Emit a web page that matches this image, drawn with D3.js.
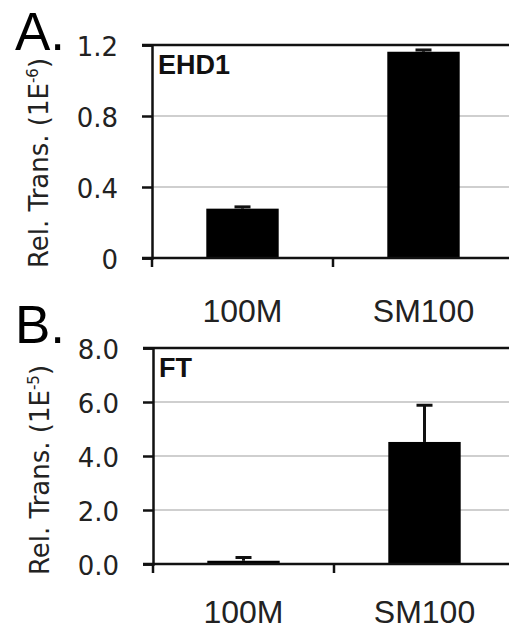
<!DOCTYPE html>
<html><head><meta charset="utf-8">
<script src="https://cdn.jsdelivr.net/npm/d3@7"></script>
<style>body{margin:0;background:#fff}svg{display:block}</style>
</head><body>
<script>
const categories = ["100M", "SM100"];
const ehd1Values = [0.278, 1.162];
const ehd1Errors = [0.01, 0.01];
const ehd1Ticks = [0, 0.4, 0.8, 1.2];
const ehd1TickLabels = ["0", "0.4", "0.8", "1.2"];
const ftValues = [0.12, 4.52];
const ftErrors = [0.12, 1.36];
const ftTicks = [0, 2, 4, 6, 8];
const ftTickLabels = ["0.0", "2.0", "4.0", "6.0", "8.0"];

const W = 509, H = 630;
const svg = d3.select("body").append("svg").attr("width", W).attr("height", H);
const font = "DejaVu Sans, sans-serif";
const sans = "Liberation Sans, Arial, sans-serif";

function panel(o) {
  const g = svg.append("g");
  const x = d3.scaleBand().domain(categories).range([o.left, o.left + 362]).paddingInner(0.6).paddingOuter(0.3);
  const xb = d3.scaleBand().domain(categories).range([o.left, o.left + 362]).padding(0);
  const y = d3.scaleLinear().domain([0, o.max]).range([o.bottom, o.top]);

  g.selectAll(".grid").data(o.ticks.filter(t => t > 0 && t < o.max)).enter().append("line")
    .attr("x1", o.left).attr("x2", W).attr("y1", d => y(d)).attr("y2", d => y(d))
    .attr("stroke", "#cfcfcf").attr("stroke-width", 2);
  g.append("line").attr("x1", o.left - 10).attr("x2", W).attr("y1", y(o.max)).attr("y2", y(o.max))
    .attr("stroke", "#111").attr("stroke-width", 2.5);

  const ya = d3.axisLeft(y).tickValues(o.ticks).tickFormat((d, i) => o.tickLabels[i]).tickSize(10).tickPadding(24);
  const yg = g.append("g").attr("transform", `translate(${o.left},0)`).call(ya);
  yg.select(".domain").attr("stroke", "#111").attr("stroke-width", 2.5);
  yg.selectAll(".tick line").attr("stroke", "#111").attr("stroke-width", 2.5);
  yg.selectAll(".tick text").attr("font-family", font).attr("font-size", 26).attr("fill", "#222").attr("dy", "0.42em");

  g.selectAll(".bar").data(o.values).enter().append("rect")
    .attr("x", (d, i) => x(categories[i])).attr("width", x.bandwidth())
    .attr("y", d => y(d)).attr("height", d => o.bottom - y(d)).attr("fill", "#000");
  const eb = g.selectAll(".err").data(o.values).enter().append("g");
  eb.append("line").attr("x1", (d, i) => x(categories[i]) + x.bandwidth() / 2)
    .attr("x2", (d, i) => x(categories[i]) + x.bandwidth() / 2)
    .attr("y1", d => y(d)).attr("y2", (d, i) => y(d + o.errors[i]))
    .attr("stroke", "#111").attr("stroke-width", 3);
  eb.append("line").attr("x1", (d, i) => x(categories[i]) + x.bandwidth() / 2 - 8)
    .attr("x2", (d, i) => x(categories[i]) + x.bandwidth() / 2 + 8)
    .attr("y1", (d, i) => y(d + o.errors[i])).attr("y2", (d, i) => y(d + o.errors[i]))
    .attr("stroke", "#111").attr("stroke-width", 3);

  g.append("line").attr("x1", o.left - 10).attr("x2", W).attr("y1", o.bottom).attr("y2", o.bottom)
    .attr("stroke", "#111").attr("stroke-width", 2.5);
  g.selectAll(".xt").data(categories).enter().append("line")
    .attr("x1", d => xb(d)).attr("x2", d => xb(d)).attr("y1", o.bottom).attr("y2", o.bottom + 9)
    .attr("stroke", "#111").attr("stroke-width", 2.5);
  g.selectAll(".xl").data(categories).enter().append("text")
    .attr("x", d => x(d) + x.bandwidth() / 2).attr("y", o.bottom + o.xlabelOffset)
    .attr("text-anchor", "middle").attr("font-family", sans).attr("font-size", 32).attr("fill", "#222")
    .text(d => d);

  g.append("text").attr("x", o.left + 6).attr("y", y(o.max) + 29)
    .attr("font-family", sans).attr("font-weight", "bold")
    .attr("font-size", 27).attr("fill", "#111").text(o.gene);

  const yl = g.append("text").attr("transform", `translate(${o.ylabelX},${o.ylabelY}) rotate(-90)`)
    .attr("text-anchor", "middle").attr("font-family", font).attr("font-size", 26).attr("fill", "#222");
  yl.append("tspan").text("Rel. Trans. (1E");
  yl.append("tspan").attr("dy", -10).attr("font-size", 15).text(o.exp);
  yl.append("tspan").attr("dy", 10).text(")");

  g.append("text").attr("x", 15).attr("y", o.letterY)
    .attr("font-family", sans).attr("font-size", 53).attr("fill", "#000")
    .text(o.letter);
}

panel({top: 45, bottom: 258, left: 152, max: 1.2, ticks: ehd1Ticks, tickLabels: ehd1TickLabels,
  values: ehd1Values, errors: ehd1Errors, gene: "EHD1", exp: "-6", letter: "A.", letterY: 50,
  ylabelX: 48, ylabelY: 163, xlabelOffset: 64});
panel({top: 348, bottom: 564, left: 153, max: 8, ticks: ftTicks, tickLabels: ftTickLabels,
  values: ftValues, errors: ftErrors, gene: "FT", exp: "-5", letter: "B.", letterY: 343,
  ylabelX: 49, ylabelY: 470, xlabelOffset: 59});
</script>
</body></html>
